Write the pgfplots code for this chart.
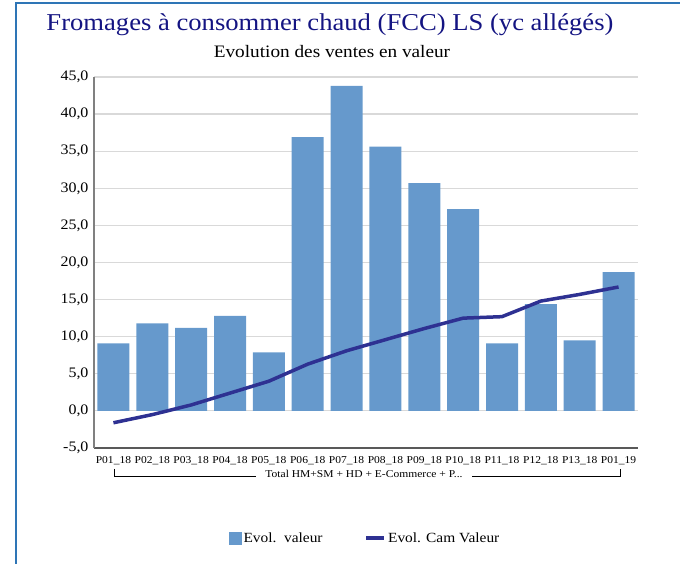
\documentclass[border=0pt]{standalone}
\usepackage{fontspec}
\setmainfont[FakeStretch=1.1]{Liberation Serif}
\usepackage{pgfplots}
\pgfplotsset{compat=1.18}
\definecolor{barblue}{RGB}{102,153,204}
\definecolor{linenavy}{RGB}{46,49,146}
\definecolor{titlenavy}{RGB}{20,20,130}
\definecolor{frameblue}{RGB}{46,117,182}
\definecolor{gridgray}{RGB}{217,217,217}
\definecolor{axisdark}{RGB}{89,89,89}
\begin{document}
\begin{tikzpicture}[x=1pt,y=1pt]
\useasboundingbox (0,0) rectangle (680,564);
\draw[frameblue, line width=2.2pt] (16,0) -- (16,561) -- (680,561);
\node[text=titlenavy, font=\fontsize{24.2}{28}\selectfont] at (330,539) {Fromages à consommer chaud (FCC) LS (yc allégés)};
\node[font=\fontsize{17.5}{20}\selectfont] at (332,512) {Evolution des ventes en valeur};
\begin{axis}[at={(94pt,116pt)}, anchor=south west, scale only axis,
  width=544pt, height=371pt,
  xmin=-0.5, xmax=13.5, ymin=-5, ymax=45, ytick={-5,0,5,10,15,20,25,30,35,40,45},
  xtick={0,...,13},
  xticklabels={P01\_18,P02\_18,P03\_18,P04\_18,P05\_18,P06\_18,P07\_18,P08\_18,P09\_18,P10\_18,P11\_18,P12\_18,P13\_18,P01\_19},
  ymajorgrids, grid style={gridgray, line width=1.2pt},
  axis x line*=bottom, axis y line*=left,
  x axis line style={-, draw=axisdark, line width=1.3pt},
  y axis line style={-, draw=gray, line width=1.5pt},
  major tick length=0pt,
  yticklabel style={font=\fontsize{14.5}{16}\selectfont, xshift=-2pt},
  xticklabel style={font=\fontsize{10.5}{12}\selectfont, yshift=-5pt},
  /pgf/number format/use comma, /pgf/number format/fixed, /pgf/number format/fixed zerofill, /pgf/number format/precision=1, /pgf/number format/assume math mode=true,
  legend style={at={(0.498,-0.243)}, anchor=center, draw=none, legend columns=2, font=\fontsize{14}{16}\selectfont,
    /tikz/every even column/.append style={column sep=40pt}},
]
\addplot[ybar, bar width=32pt, fill=barblue, draw=none,
  legend image code/.code={\fill[barblue] (-7pt,-6.5pt) rectangle (6pt,6.5pt);}]
  coordinates {(0,9.1) (1,11.8) (2,11.2) (3,12.8) (4,7.9) (5,36.9) (6,43.8) (7,35.6) (8,30.7) (9,27.2) (10,9.1) (11,14.4) (12,9.5) (13,18.7)};
\addlegendentry{Evol.\ \ valeur}
\addplot[sharp plot, no markers, linenavy, line width=3.5pt, line join=round,
  legend image code/.code={\draw[linenavy, line width=3.5pt] (-3pt,0pt) -- (15pt,0pt);}]
  coordinates {(0,-1.6) (1,-0.5) (2,0.8) (3,2.4) (4,4.0) (5,6.3) (6,8.1) (7,9.6) (8,11.1) (9,12.5) (10,12.7) (11,14.8) (12,15.7) (13,16.7)};
\addlegendentry{Evol. Cam Valeur}
\end{axis}
\draw[black, line width=0.8pt] (114,95) -- (114,88) -- (256,88);
\draw[black, line width=0.8pt] (472,88) -- (620,88) -- (620,95);
\node[font=\fontsize{10.5}{12}\selectfont] at (364,90) {Total HM+SM + HD + E-Commerce + P...};
\end{tikzpicture}
\end{document}
